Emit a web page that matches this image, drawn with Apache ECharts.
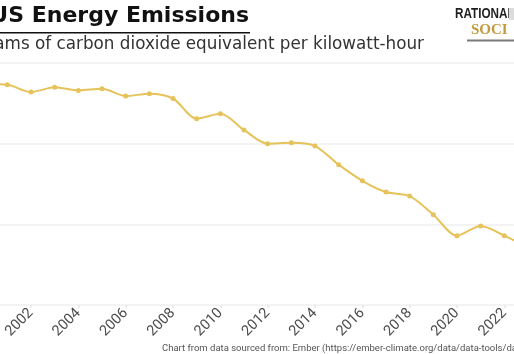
<!DOCTYPE html>
<html>
<head>
<meta charset="utf-8">
<script src="https://cdn.jsdelivr.net/npm/echarts@6/dist/echarts.min.js"></script>
<style>
  html, body { margin: 0; padding: 0; background: #fff; }
  #chart { width: 514px; height: 354px; }
</style>
</head>
<body>
<div id="chart"></div>
<script>
// grams CO2e per kWh
const years = ['2000', '2001', '2002', '2003', '2004', '2005', '2006', '2007', '2008', '2009', '2010', '2011',
  '2012', '2013', '2014', '2015', '2016', '2017', '2018', '2019', '2020', '2021', '2022', '2023']
const intensity = [574, 573, 564, 570, 566, 568, 559, 562, 556, 531, 537, 517,
  500, 501, 497, 474, 454, 440, 435, 412, 386, 398, 386, 371]
const yTicks = [300, 400, 500, 600]

const gold = '#e6c35a'
const chart = echarts.init(document.getElementById('chart'))

chart.setOption({
  animation: false,
  grid: { left: -16.3, right: -14, top: 63, bottom: 49, outerBoundsMode: 'none', containLabel: false },
  xAxis: {
    type: 'category',
    data: years,
    boundaryGap: false,
    axisLine: { show: false },
    axisTick: { show: true, alignWithLabel: true, interval: 1, length: 3, lineStyle: { color: '#e6e6e6', width: 1.5 } },
    axisLabel: {
      interval: 1,
      rotate: 45,
      margin: 6,
      color: '#4d4d4d',
      fontFamily: 'Roboto',
      fontSize: 14.5,
    },
  },
  yAxis: {
    type: 'value',
    min: yTicks[0],
    max: yTicks[yTicks.length - 1],
    interval: 100,
    axisLabel: { show: false },
    axisLine: { show: false },
    axisTick: { show: false },
    splitLine: { lineStyle: { color: '#efefef', width: 1.5 } },
  },
  series: [
    {
      type: 'line',
      data: intensity,
      smooth: 0.3,
      symbol: 'circle',
      symbolSize: 5,
      itemStyle: { color: gold },
      lineStyle: { color: gold, width: 2 },
    },
  ],
  graphic: [
    {
      type: 'text', x: 249, y: 16,
      style: { text: 'US Energy Emissions', align: 'right', verticalAlign: 'middle',
        font: 'bold 22px "DejaVu Sans"', fill: '#111' },
    },
    { type: 'rect', shape: { x: 0, y: 32, width: 250, height: 1.5 }, style: { fill: '#111' } },
    {
      type: 'text', x: 424, y: 45,
      style: { text: 'grams of carbon dioxide equivalent per kilowatt-hour', align: 'right',
        verticalAlign: 'middle', font: '16.8px "DejaVu Sans"', fill: '#333' },
    },
    {
      type: 'text', x: 455, y: 14, scaleX: 0.78,
      style: { text: 'RATIONAL', verticalAlign: 'middle',
        font: 'bold 15px "Liberation Sans"', fill: '#1f1f1f' },
    },
    { type: 'rect', shape: { x: 509, y: 8, width: 5, height: 12 }, style: { fill: '#dcdcdc' } },
    {
      type: 'text', x: 471, y: 30,
      style: { text: 'SOCI', verticalAlign: 'middle',
        font: 'bold 15px "Liberation Serif"', fill: '#c39a3e' },
    },
    { type: 'rect', shape: { x: 467, y: 39.5, width: 47, height: 2 }, style: { fill: '#7a7a7a' } },
    {
      type: 'text', x: 162, y: 349,
      style: { text: 'Chart from data sourced from: Ember (https://ember-climate.org/data/data-tools/data-explorer/)',
        verticalAlign: 'middle', font: '9.5px Roboto', fill: '#555' },
    },
  ],
})
</script>
</body>
</html>
